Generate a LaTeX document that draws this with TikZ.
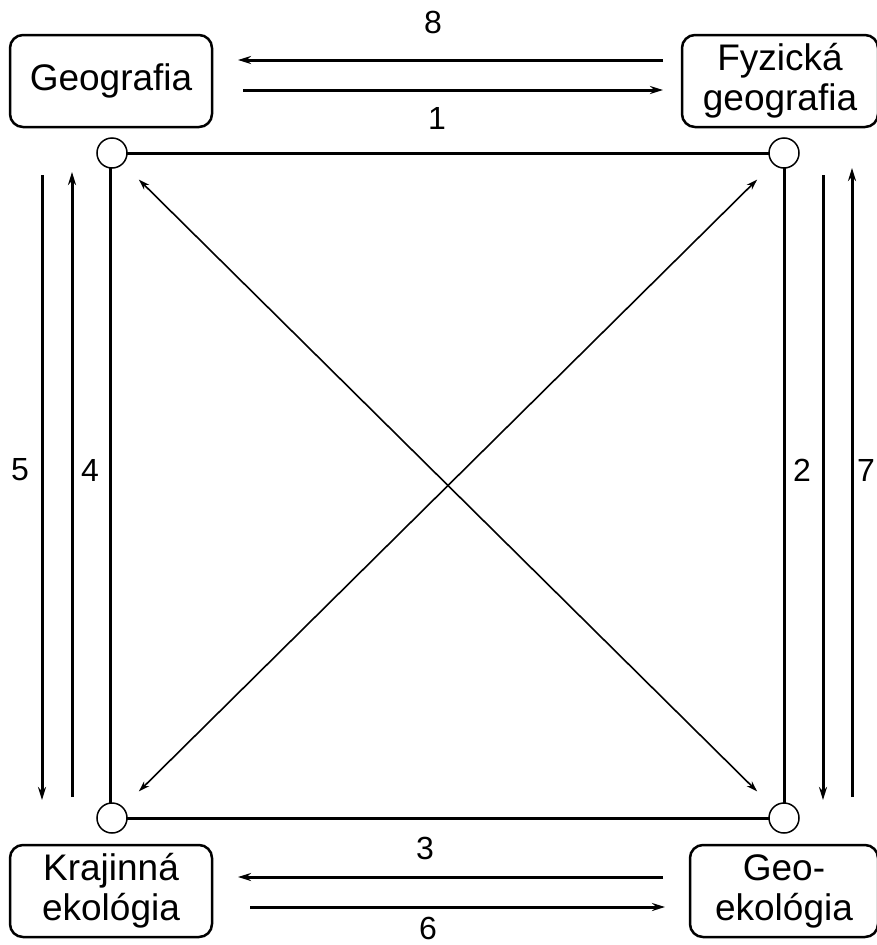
\documentclass[tikz,border=0pt]{standalone}
\usepackage{fontspec}
\setmainfont{Liberation Sans}
\usetikzlibrary{arrows.meta}
\tikzset{
  box/.style={draw, line width=2.5pt, rounded corners=13pt, align=center,
    font=\fontsize{37}{40}\selectfont, inner sep=0pt},
  dot/.style={draw, circle, fill=white, line width=1.5pt, minimum size=30pt, inner sep=0pt},
  flow/.style={line width=3pt, -{Stealth[length=13pt,width=8pt]}},
  cross/.style={line width=1.6pt, {Stealth[length=11pt,width=7pt]}-{Stealth[length=11pt,width=7pt]}},
  num/.style={font=\fontsize{32}{34}\selectfont}
}
\begin{document}
\begin{tikzpicture}[x=1pt, y=-1pt]
  \useasboundingbox (0,0) rectangle (877,945);

  % Boxes
  \node[box, minimum width=202pt, minimum height=92pt] (geo) at (111,81) {Geografia};
  \node[box, minimum width=196pt, minimum height=92pt] (fyz) at (780,81) {Fyzická\\geografia};
  \node[box, minimum width=202pt, minimum height=92pt] (kraj) at (111,891) {Krajinná\\ekológia};
  \node[box, minimum width=188pt, minimum height=92pt] (geoeko) at (784,891) {Geo-\\ekológia};

  % Square
  \draw[line width=3pt] (110,153) -- (784,153) -- (784,818) -- (110,818) -- cycle;
  \node[dot] (tl) at (112,153) {};
  \node[dot] (tr) at (784,153) {};
  \node[dot] (bl) at (112,818) {};
  \node[dot] (br) at (784,818) {};

  % Diagonals
  \draw[cross, shorten <=22pt, shorten >=22pt] (tl) -- (br);
  \draw[cross, shorten <=22pt, shorten >=22pt] (bl) -- (tr);

  % Top arrows
  \coordinate (t8a) at (663,60);  \coordinate (t8b) at (238,60);
  \coordinate (t1a) at (243,90);  \coordinate (t1b) at (663,90);
  \draw[flow] (t8a) -- (t8b);
  \draw[flow] (t1a) -- (t1b);
  \node[num] (n8) at (433,22) {8};
  \node[num] (n1) at (437,118) {1};

  % Bottom arrows
  \coordinate (b3a) at (663,877); \coordinate (b3b) at (238,877);
  \coordinate (b6a) at (250,907); \coordinate (b6b) at (665,907);
  \draw[flow] (b3a) -- (b3b);
  \draw[flow] (b6a) -- (b6b);
  \node[num] (n3) at (425,848) {3};
  \node[num] (n6) at (428,928) {6};

  % Left arrows
  \coordinate (l5a) at (42,175);  \coordinate (l5b) at (42,800);
  \coordinate (l4a) at (72,797);  \coordinate (l4b) at (72,172);
  \draw[flow] (l5a) -- (l5b);
  \draw[flow] (l4a) -- (l4b);
  \node[num] (n5) at (20,470) {5};
  \node[num] (n4) at (90,470) {4};

  % Right arrows
  \coordinate (r2a) at (823,175); \coordinate (r2b) at (823,800);
  \coordinate (r7a) at (852,797); \coordinate (r7b) at (852,168);
  \draw[flow] (r2a) -- (r2b);
  \draw[flow] (r7a) -- (r7b);
  \node[num] (n2) at (802,470) {2};
  \node[num] (n7) at (866,470) {7};
\end{tikzpicture}
\end{document}
